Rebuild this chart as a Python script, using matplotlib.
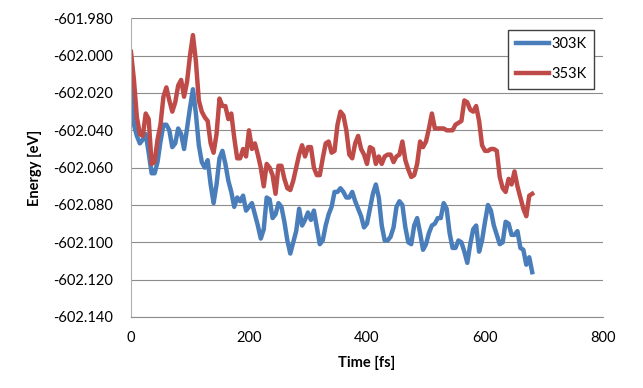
import numpy as np
import matplotlib.pyplot as plt

plt.rcParams['font.family'] = ['Lato', 'DejaVu Sans']

# time axis: one sample every 5 fs
time_fs = np.arange(0, 681, 5)

e_303 = [
    -602.017, -602.037, -602.043, -602.047, -602.045, -602.042, -602.052, -602.063,
    -602.063, -602.057, -602.046, -602.037, -602.037, -602.040, -602.049, -602.047,
    -602.039, -602.042, -602.050, -602.039, -602.028, -602.018, -602.031, -602.048,
    -602.057, -602.060, -602.056, -602.069, -602.079, -602.069, -602.055, -602.051,
    -602.058, -602.067, -602.073, -602.081, -602.076, -602.078, -602.075, -602.083,
    -602.081, -602.079, -602.085, -602.091, -602.098, -602.093, -602.076,
    -602.077, -602.087, -602.085, -602.079, -602.081, -602.089, -602.099, -602.106,
    -602.100, -602.094, -602.082, -602.091, -602.088, -602.084, -602.088, -602.083,
    -602.092, -602.101, -602.099, -602.091, -602.085, -602.081, -602.073, -602.073,
    -602.071, -602.073, -602.076, -602.076, -602.073, -602.078, -602.082, -602.086,
    -602.092, -602.090, -602.082, -602.074, -602.069, -602.076, -602.091, -602.099,
    -602.099, -602.097, -602.092, -602.081, -602.078, -602.080,
    -602.092, -602.100, -602.101, -602.091, -602.087, -602.095, -602.104, -602.101,
    -602.095, -602.091, -602.090, -602.087, -602.087, -602.079, -602.082, -602.095,
    -602.103, -602.103, -602.099, -602.100, -602.105, -602.111, -602.101, -602.093,
    -602.091, -602.105, -602.099, -602.089, -602.080, -602.083, -602.091, -602.096,
    -602.101, -602.100, -602.089, -602.090, -602.096, -602.096, -602.094, -602.103,
    -602.104, -602.112, -602.108, -602.116,
]

e_353 = [
    -601.998, -602.013, -602.033, -602.042, -602.043, -602.031, -602.034, -602.058,
    -602.057, -602.045, -602.037, -602.022, -602.017, -602.024, -602.030, -602.025,
    -602.016, -602.013, -602.022, -602.014, -602.000, -601.989, -602.003, -602.024,
    -602.030, -602.033, -602.035, -602.047, -602.052, -602.042, -602.023, -602.027,
    -602.027, -602.034, -602.031, -602.044, -602.055, -602.055, -602.050, -602.054,
    -602.040, -602.050, -602.047, -602.053, -602.060, -602.070, -602.058,
    -602.060, -602.064, -602.074, -602.059, -602.059, -602.066, -602.071, -602.072,
    -602.067, -602.060, -602.053, -602.048, -602.054, -602.049, -602.049, -602.060,
    -602.064, -602.064, -602.055, -602.047, -602.046, -602.052, -602.051, -602.037,
    -602.030, -602.032, -602.040, -602.053, -602.055, -602.047, -602.043, -602.050,
    -602.053, -602.058, -602.049, -602.050, -602.058, -602.054, -602.058, -602.054,
    -602.053, -602.053, -602.057, -602.054, -602.053, -602.046,
    -602.056, -602.061, -602.065, -602.064, -602.058, -602.046, -602.049, -602.046,
    -602.039, -602.031, -602.039, -602.039, -602.039, -602.039, -602.040, -602.040,
    -602.040, -602.037, -602.036, -602.035, -602.024, -602.025, -602.029, -602.030,
    -602.027, -602.035, -602.048, -602.051, -602.051, -602.050, -602.050, -602.051,
    -602.065, -602.071, -602.073, -602.066, -602.069, -602.062, -602.070, -602.076,
    -602.082, -602.086, -602.075, -602.074,
]

fig = plt.figure(figsize=(6.43, 3.88), dpi=100)
ax = fig.add_axes([0.2037, 0.1830, 0.7341, 0.7698])

ax.plot(time_fs, e_303, color='#4A7EBB', lw=3.2, label='303K', solid_joinstyle='round')
ax.plot(time_fs, e_353, color='#BE4B48', lw=3.2, label='353K', solid_joinstyle='round')

ax.set_xlim(0, 800)
ax.set_ylim(-602.140, -601.980)
ax.set_xticks(np.arange(0, 801, 200))
ax.set_yticks(np.arange(-602.140, -601.979, 0.020))
ax.yaxis.set_major_formatter(plt.FormatStrFormatter('%.3f'))

ax.grid(axis='y', color='#8C8C8C', lw=0.8)
ax.set_axisbelow(True)
for s in ['top', 'right']:
    ax.spines[s].set_visible(False)
ax.spines['left'].set_color('#B0B0B0')
ax.spines['bottom'].set_color('#8C8C8C')
ax.tick_params(axis='y', length=0, pad=13, labelsize=10.5)
ax.tick_params(axis='x', length=0, pad=10, labelsize=10.5)

ax.set_xlabel('Time [fs]', fontweight='bold', fontsize=10.5)
ax.set_ylabel('Energy [eV]', fontweight='bold', fontsize=10.5)
ax.xaxis.set_label_coords(0.5, -0.13)
ax.yaxis.set_label_coords(-0.189, 0.5)

leg = ax.legend(loc='upper right', bbox_to_anchor=(0.99, 0.975), fancybox=False,
                edgecolor='#404040', framealpha=1, fontsize=10.5, handlelength=2.3,
                labelspacing=1.1, handletextpad=0.15, borderpad=0.5, borderaxespad=0.3)
leg.get_frame().set_linewidth(1.0)

fig.savefig('out.png', dpi=100)
